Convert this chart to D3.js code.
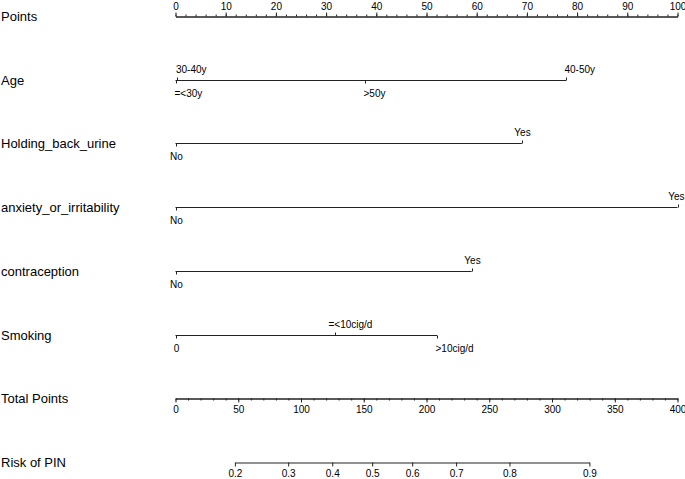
<!DOCTYPE html>
<html><head><meta charset="utf-8">
<script src="https://cdn.jsdelivr.net/npm/d3@7"></script>
<style>
body{margin:0;background:#fff}
svg{display:block}
text{font-family:"Liberation Sans",Arial,Helvetica,sans-serif;fill:#000}
</style>
</head><body>
<svg id="c" width="685" height="479"></svg>
<script>
// ---- data ----
const rowNames = ["Points","Age","Holding_back_urine","anxiety_or_irritability","contraception","Smoking","Total Points","Risk of PIN"];
const pointsMajor = [0,10,20,30,40,50,60,70,80,90,100];
const pointsMinor = [0,2,4,6,8,10,12,14,16,18,20,22,24,26,28,30,32,34,36,38,40,42,44,46,48,50,52,54,56,58,60,62,64,66,68,70,72,74,76,78,80,82,84,86,88,90,92,94,96,98,100];
const ageLevels = ["=<30y","30-40y",">50y","40-50y"];
const agePoints = [0,0.2,37.8,77.8];
const holdLevels = ["No","Yes"];
const holdPoints = [0,69.0];
const anxLevels = ["No","Yes"];
const anxPoints = [0,100];
const contraLevels = ["No","Yes"];
const contraPoints = [0,59.0];
const smokeLevels = ["0","=<10cig/d",">10cig/d"];
const smokePoints = [0,31.7,52.1];
const totalMajor = [0,50,100,150,200,250,300,350,400];
const totalMinor = [0,10,20,30,40,50,60,70,80,90,100,110,120,130,140,150,160,170,180,190,200,210,220,230,240,250,260,270,280,290,300,310,320,330,340,350,360,370,380,390,400];
const riskTicks = [0.2,0.3,0.4,0.5,0.6,0.7,0.8,0.9];
const riskTotal = [47.3,89.8,124.9,156.7,188.6,223.6,266.1,329.8];

// ---- layout ----
const W = 685;
const svg = d3.select("#c");
const xPts = d3.scaleLinear().domain([0,100]).range([175.5,677.5]);
const xTot = d3.scaleLinear().domain([0,400]).range([175.5,677.5]);
const yRow = d3.scalePoint().domain(rowNames).range([16,462]);
const ry = n => Math.round(yRow(n)) + 0.5;
const ink = "#222";

// left labels
svg.append("g").selectAll("text").data(rowNames).join("text")
  .attr("x",1).attr("y",d=>yRow(d)+5)
  .attr("font-size",13).text(d=>d);

function styleAxis(g, fs){
  g.selectAll(".domain").attr("stroke",ink);
  g.selectAll(".tick line").attr("stroke",ink);
  g.selectAll("text").attr("font-size",fs).attr("font-family",null).attr("fill","#000");
}
// keep labels inside the page
function clampText(sel){
  sel.each(function(){
    const bb = this.getBBox();
    if (bb.x + bb.width > W - 0.5) {
      d3.select(this).attr("dx", (W - 0.5) - (bb.x + bb.width));
    }
  });
}

// Points axis
const gP = svg.append("g").attr("transform",`translate(0,${ry("Points")})`);
gP.append("g").call(d3.axisTop(xPts).tickValues(pointsMinor).tickSize(2).tickSizeOuter(0).tickFormat(""))
  .call(g=>styleAxis(g,10));
gP.append("g").call(d3.axisTop(xPts).tickValues(pointsMajor).tickSize(4).tickSizeOuter(0).tickPadding(3))
  .call(g=>styleAxis(g,10))
  .call(g=>clampText(g.selectAll("text")));

// categorical rows
const dxMap = {"=<30y":-2,"30-40y":-1.5,">50y":-2,"40-50y":-2,"=<10cig/d":-7,">10cig/d":-2};
function catRow(name, levels, pts){
  const y = ry(name);
  const g = svg.append("g");
  const items = levels.map((l,i)=>({l, p:pts[i]})).sort((a,b)=>a.p-b.p);
  const ext = d3.extent(pts);
  g.append("line").attr("x1",xPts(ext[0])).attr("x2",xPts(ext[1]))
    .attr("y1",y).attr("y2",y).attr("stroke",ink);
  items.forEach((d,i)=>{
    const above = i%2===1;
    const x = Math.round(xPts(d.p))+0.5;
    g.append("line").attr("x1",x).attr("x2",x).attr("y1",y).attr("y2",above?y-3:y+3).attr("stroke",ink);
    const t = g.append("text").attr("font-size",10)
      .attr("y", above ? y-8 : y+16).text(d.l);
    if (dxMap[d.l]!==undefined) t.attr("x",x+dxMap[d.l]).attr("text-anchor","start");
    else t.attr("x",x).attr("text-anchor","middle");
    clampText(t);
  });
}
catRow("Age", ageLevels, agePoints);
catRow("Holding_back_urine", holdLevels, holdPoints);
catRow("anxiety_or_irritability", anxLevels, anxPoints);
catRow("contraception", contraLevels, contraPoints);
catRow("Smoking", smokeLevels, smokePoints);

// Total points axis
const gT = svg.append("g").attr("transform",`translate(0,${ry("Total Points")})`);
gT.append("g").call(d3.axisBottom(xTot).tickValues(totalMinor).tickSize(2).tickSizeOuter(0).tickFormat(""))
  .call(g=>styleAxis(g,10));
gT.append("g").call(d3.axisBottom(xTot).tickValues(totalMajor).tickSize(4).tickSizeOuter(0).tickPadding(3))
  .call(g=>styleAxis(g,10))
  .call(g=>clampText(g.selectAll("text")));

// Risk axis: only spans the probability range
const xRisk = d3.scaleLinear()
  .domain(d3.extent(riskTotal))
  .range([xTot(riskTotal[0]), xTot(riskTotal[riskTotal.length-1])]);
const gR = svg.append("g").attr("transform",`translate(0,${ry("Risk of PIN")})`);
gR.append("g").call(d3.axisBottom(xRisk).tickValues(riskTotal).tickSize(4).tickSizeOuter(0).tickPadding(3)
  .tickFormat((d,i)=>riskTicks[i]))
  .call(g=>styleAxis(g,10));
</script>
</body></html>
